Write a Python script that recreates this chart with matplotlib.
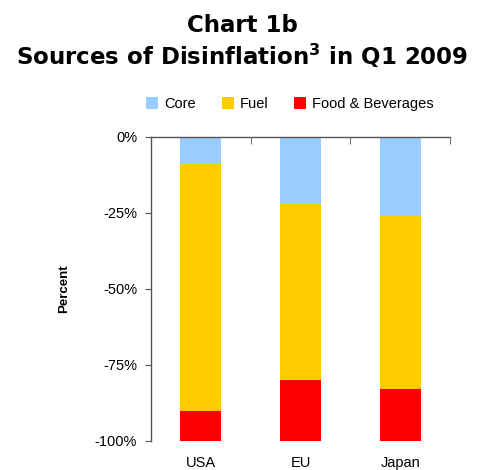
import matplotlib
matplotlib.use("Agg")
import matplotlib.pyplot as plt
from matplotlib.patches import Patch

# Contributions to disinflation, Q1 2009 (percent of total)
regions = ["USA", "EU", "Japan"]
core = [-9, -22, -26]
fuel = [-81, -58, -57]
food = [-10, -20, -17]
series_names = ["Core", "Fuel", "Food & Beverages"]
colors = ["#99CCFF", "#FFCC00", "#FF0000"]
ytick_vals = [0, -25, -50, -75, -100]
ytick_labels = ["0%", "-25%", "-50%", "-75%", "-100%"]

fig = plt.figure(figsize=(4.85, 4.70), dpi=100)
ax = fig.add_axes([151 / 485, 1 - 441 / 470, 299 / 485, 304 / 470])

x = list(range(len(regions)))
bottom = [0] * len(regions)
for vals, col in zip([core, fuel, food], colors):
    ax.bar(x, vals, width=0.41, bottom=bottom, color=col, edgecolor="none")
    bottom = [b + v for b, v in zip(bottom, vals)]

ax.set_xlim(-0.5, 2.5)
ax.set_ylim(-100, 0)

for s in ["right", "bottom"]:
    ax.spines[s].set_visible(False)
for s in ["top", "left"]:
    ax.spines[s].set_color("#555555")
    ax.spines[s].set_linewidth(1.0)

ax.set_yticks(ytick_vals)
ax.set_yticklabels(ytick_labels, fontsize=10.5, family="Liberation Sans")
ax.tick_params(axis="y", direction="out", length=4, color="#555555", pad=6)

ax.set_xticks(x)
ax.set_xticklabels(regions, fontsize=10.5, family="Liberation Sans")
ax.tick_params(axis="x", which="major", length=0, pad=11)
ax.set_xticks([-0.5, 0.5, 1.5, 2.5], minor=True)
ax.tick_params(axis="x", which="minor", top=True, bottom=False,
               direction="in", length=5, color="#555555")

ax.set_ylabel("Percent", fontsize=9.5, fontweight="bold",
              family="Liberation Sans", labelpad=18)

fig.text(0.5, 1 - 25 / 470, "Chart 1b", ha="center", va="center",
         fontsize=16.5, fontweight="bold", family="DejaVu Sans")
fig.text(0.5, 1 - 56 / 470, r"Sources of Disinflation$^{\mathbf{3}}$ in Q1 2009",
         ha="center", va="center", fontsize=16.5, fontweight="bold",
         family="DejaVu Sans")

handles = [Patch(facecolor=c, edgecolor="none") for c in colors]
fig.legend(handles, series_names, loc="center", bbox_to_anchor=(290 / 485, 1 - 104 / 470),
           ncol=3, frameon=False, prop={"family": "Liberation Sans", "size": 10.5},
           handlelength=0.8, handleheight=0.8, handletextpad=0.4, columnspacing=1.8)

fig.savefig("out.png", dpi=100)
